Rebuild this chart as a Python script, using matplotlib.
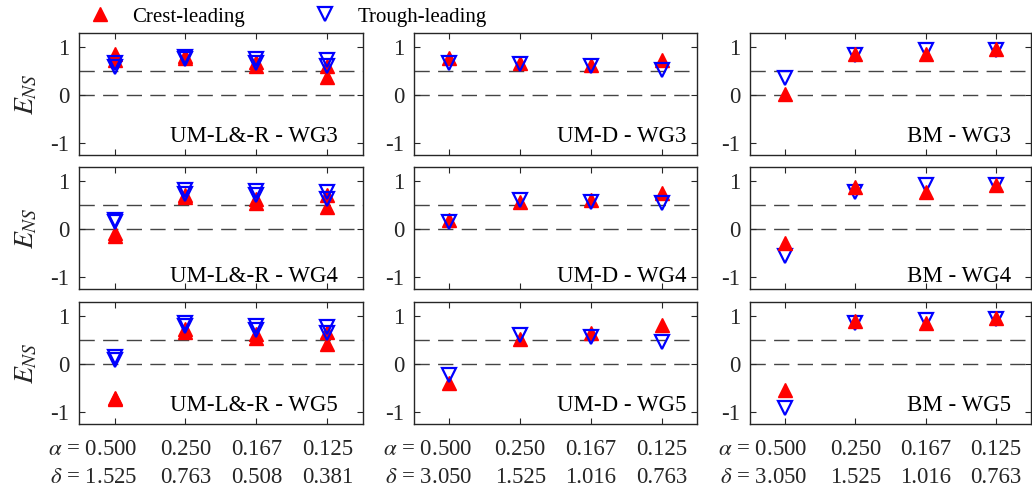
import matplotlib
matplotlib.use('Agg')
import matplotlib.pyplot as plt
import numpy as np
from matplotlib.lines import Line2D

plt.rcParams['font.family'] = ['Liberation Serif', 'DejaVu Serif']
plt.rcParams['mathtext.fontset'] = 'stix'
plt.rcParams['font.size'] = 16

x_pos = [1, 2, 3, 4]
alpha_labels = ['0.500', '0.250', '0.167', '0.125']
delta_labels = [['1.525', '0.763', '0.508', '0.381'],
                ['3.050', '1.525', '1.016', '0.763'],
                ['3.050', '1.525', '1.016', '0.763']]
models = ['UM-L&-R', 'UM-D', 'BM']
gauges = ['WG3', 'WG4', 'WG5']

# UM-L&-R: two values per case (left / right)
lr_crest = {
    'WG3': [[0.86, 0.74], [0.82, 0.78], [0.60, 0.70], [0.37, 0.62]],
    'WG4': [[-0.08, -0.15], [0.71, 0.67], [0.64, 0.54], [0.71, 0.47]],
    'WG5': [[-0.72, -0.70], [0.74, 0.68], [0.64, 0.54], [0.68, 0.43]],
}
lr_trough = {
    'WG3': [[0.67, 0.59], [0.80, 0.75], [0.75, 0.68], [0.73, 0.62]],
    'WG4': [[0.19, 0.14], [0.81, 0.74], [0.80, 0.72], [0.78, 0.64]],
    'WG5': [[0.16, 0.09], [0.86, 0.79], [0.79, 0.71], [0.77, 0.66]],
}
d_crest = {'WG3': [0.77, 0.67, 0.64, 0.74],
           'WG4': [0.19, 0.57, 0.61, 0.76],
           'WG5': [-0.39, 0.52, 0.65, 0.81]}
d_trough = {'WG3': [0.67, 0.66, 0.60, 0.52],
            'WG4': [0.14, 0.62, 0.57, 0.55],
            'WG5': [-0.22, 0.60, 0.56, 0.47]}
bm_crest = {'WG3': [0.03, 0.87, 0.86, 0.96],
            'WG4': [-0.29, 0.88, 0.78, 0.93],
            'WG5': [-0.53, 0.90, 0.86, 0.97]}
bm_trough = {'WG3': [0.36, 0.84, 0.94, 0.94],
             'WG4': [-0.57, 0.78, 0.93, 0.92],
             'WG5': [-0.91, 0.86, 0.92, 0.94]}

crest_style = dict(marker='^', ms=10, color='red', mec='red', ls='none')
trough_style = dict(marker='v', ms=9.5, color='blue', mfc='none', mec='blue', mew=1.6, ls='none')

W, H = 1032, 494
fig = plt.figure(figsize=(W / 100, H / 100), dpi=100)

col_left = [79, 414, 750]
col_width = [284, 283, 281]
row_top = [33, 167, 302]
row_h = 122
txt_x = [4.15, 4.35, 4.22]
txt_y = [-0.87, -0.98, -0.87]
grey = '#262626'
fs = 16.5

for c, model in enumerate(models):
    for r, g in enumerate(gauges):
        ax = fig.add_axes([col_left[c] / W, 1 - (row_top[r] + row_h) / H,
                           col_width[c] / W, row_h / H])
        ax.axhline(0.5, color='#444444', lw=1, dashes=(11, 6), zorder=1)
        ax.axhline(0.0, color='#444444', lw=1, dashes=(11, 6), zorder=1)
        if c == 0:
            for k in range(2):
                ax.plot(x_pos, [v[k] for v in lr_crest[g]], zorder=3, **crest_style)
            for k in range(2):
                ax.plot(x_pos, [v[k] for v in lr_trough[g]], zorder=4, **trough_style)
        elif c == 1:
            ax.plot(x_pos, d_crest[g], zorder=3, **crest_style)
            ax.plot(x_pos, d_trough[g], zorder=4, **trough_style)
        else:
            ax.plot(x_pos, bm_trough[g], zorder=3, **trough_style)
            ax.plot(x_pos, bm_crest[g], zorder=4, **crest_style)

        ax.set_xlim(0.5, 4.5)
        ax.set_ylim(-1.25, 1.3)
        ax.set_yticks([-1, 0, 1])
        ax.set_yticklabels(['-1', '0', '1'])
        ax.set_xticks(x_pos)
        ax.set_xticklabels([])
        ax.tick_params(direction='in', top=True, right=True, length=4,
                       width=0.8, colors=grey, labelsize=fs, pad=7)
        ax.tick_params(axis='y', labelcolor=grey)
        for s in ax.spines.values():
            s.set_linewidth(1)
            s.set_color(grey)
        ax.text(txt_x[c], txt_y[r], model + ' - ' + g, ha='right', va='center',
                fontsize=fs, color='black')
        if c == 0:
            ax.set_ylabel('$E_{NS}$', fontsize=20, color=grey)
            ax.yaxis.set_label_coords(-0.14, 0.5)
        if r == 2:
            tr = ax.get_xaxis_transform()
            for i, xv in enumerate(x_pos):
                if i == 0:
                    ax.text(1.32, -0.205, r'$\alpha$ = ' + alpha_labels[i], transform=tr,
                            ha='right', va='center', fontsize=fs, color=grey)
                    ax.text(1.32, -0.44, r'$\delta$ = ' + delta_labels[c][i], transform=tr,
                            ha='right', va='center', fontsize=fs, color=grey)
                else:
                    ax.text(xv, -0.205, alpha_labels[i], transform=tr,
                            ha='center', va='center', fontsize=fs, color=grey)
                    ax.text(xv, -0.44, delta_labels[c][i], transform=tr,
                            ha='center', va='center', fontsize=fs, color=grey)

handles = [Line2D([], [], **crest_style), Line2D([], [], **trough_style)]
fig.legend(handles, ['Crest-leading', 'Trough-leading'], loc='center left',
           bbox_to_anchor=(84 / W, 1 - 17 / H), ncol=2, frameon=False,
           handlelength=1.5, handletextpad=0.8, columnspacing=3.1,
           fontsize=15, borderaxespad=0, borderpad=0)

fig.savefig('out.png', dpi=100)
